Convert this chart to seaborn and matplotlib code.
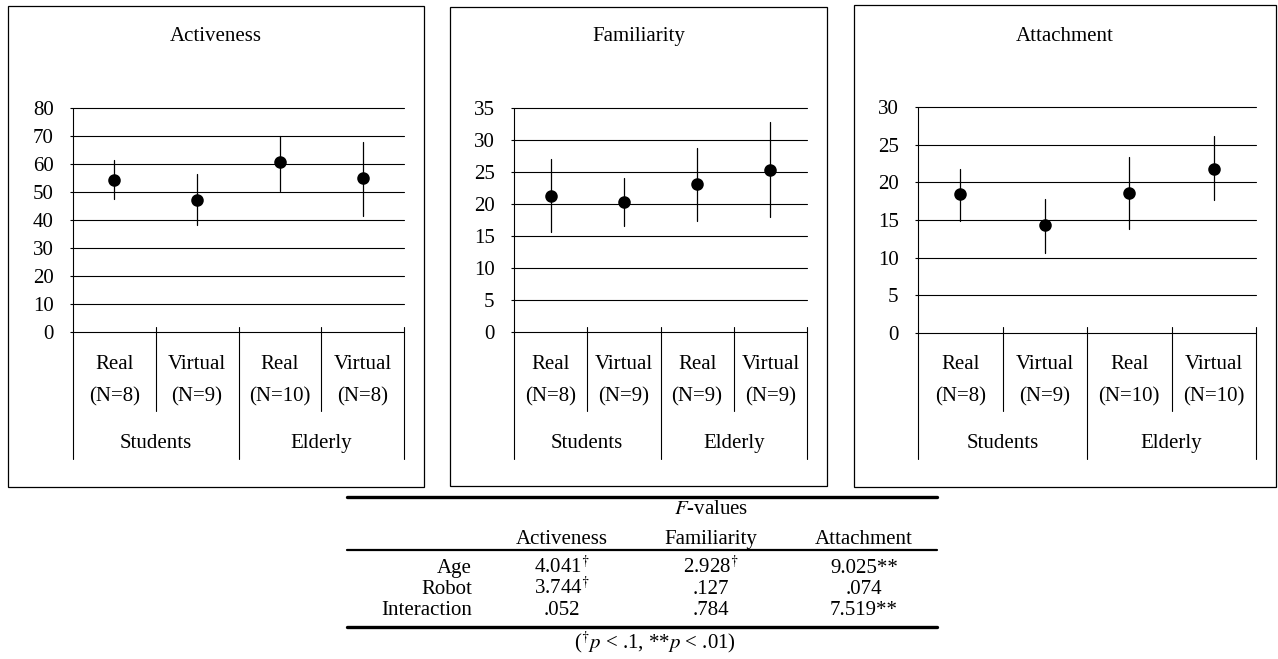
import pandas as pd
import seaborn as sns
import matplotlib.pyplot as plt
from matplotlib.patches import Rectangle

# condiciones (mismo orden en los tres paneles)
conditions = ["Students Real", "Students Virtual", "Elderly Real", "Elderly Virtual"]
robot_labels = ["Real", "Virtual", "Real", "Virtual"]
age_groups = ["Students", "Elderly"]

# medias y barras de error
activeness_mean = [54.3, 47.0, 60.6, 54.9]
activeness_lo = [47.6, 38.2, 50.5, 41.3]
activeness_hi = [61.3, 56.4, 69.9, 67.7]
activeness_n = [8, 9, 10, 8]

familiarity_mean = [21.2, 20.3, 23.1, 25.3]
familiarity_lo = [15.6, 16.5, 17.4, 18.0]
familiarity_hi = [27.1, 24.0, 28.7, 32.8]
familiarity_n = [8, 9, 9, 9]

attachment_mean = [18.4, 14.3, 18.6, 21.8]
attachment_lo = [14.9, 10.6, 13.8, 17.7]
attachment_hi = [21.8, 17.8, 23.4, 26.1]
attachment_n = [8, 9, 10, 10]

# tabla de valores F
table_rows = ["Age", "Robot", "Interaction"]
table_cols = ["Activeness", "Familiarity", "Attachment"]
f_activeness = [r"4.041$^{\dagger}$", r"3.744$^{\dagger}$", ".052"]
f_familiarity = [r"2.928$^{\dagger}$", ".127", ".784"]
f_attachment = ["9.025**", ".074", "7.519**"]

sns.set_theme(style="white")
plt.rcParams["font.family"] = ["Liberation Serif", "DejaVu Serif"]
plt.rcParams["mathtext.fontset"] = "stix"
plt.rcParams["text.color"] = "black"
FS = 15

W, H = 1278, 659
fig = plt.figure(figsize=(W / 100, H / 100), dpi=100)

# capa en pixeles para marcos, titulos y tabla
over = fig.add_axes([0, 0, 1, 1])
over.set_xlim(0, W)
over.set_ylim(H, 0)
over.axis("off")

panels = [
    ("Activeness", activeness_mean, activeness_lo, activeness_hi, activeness_n, 80, 10,
     (8, 6, 424, 487), (73, 108, 404, 332)),
    ("Familiarity", familiarity_mean, familiarity_lo, familiarity_hi, familiarity_n, 35, 5,
     (450, 7, 827, 486), (514, 108, 807, 332)),
    ("Attachment", attachment_mean, attachment_lo, attachment_hi, attachment_n, 30, 5,
     (854, 5, 1276, 487), (918, 107, 1256, 333)),
]

for title, mean, lo, hi, ns, ymax, step, box, rect in panels:
    bx0, by0, bx1, by1 = box
    over.add_patch(Rectangle((bx0, by0), bx1 - bx0, by1 - by0, fill=False,
                             edgecolor="black", lw=0.9))
    over.text((bx0 + bx1) / 2, 41, title, ha="center", va="baseline", fontsize=FS)

    ax0, ay0, ax1, ay1 = rect
    ax = fig.add_axes([ax0 / W, (H - ay1) / H, (ax1 - ax0) / W, (ay1 - ay0) / H])
    ax.set_facecolor("none")

    # formato largo: min, media, max por condicion -> mediana + intervalo 0-100
    df = pd.DataFrame({
        "cond": [c for c in conditions for _ in range(3)],
        "value": [v for trio in zip(lo, mean, hi) for v in trio],
    })
    sns.pointplot(data=df, x="cond", y="value", order=conditions,
                  estimator="median", errorbar=("pi", 100), color="black",
                  marker="o", markersize=7, linestyle="none",
                  err_kws={"linewidth": 0.9}, ax=ax)

    ax.set_xlim(-0.5, 3.5)
    ax.set_ylim(0, ymax)
    ax.set_yticks(range(0, ymax + 1, step))
    ax.yaxis.grid(True, color="black", lw=0.8)
    ax.set_axisbelow(True)
    ax.set_xticks([])
    ax.set_xlabel("")
    ax.set_ylabel("")
    for s in ax.spines.values():
        s.set_visible(False)
    ax.tick_params(axis="y", left=True, length=2, width=0.8, pad=12,
                   labelsize=FS, colors="black")
    for g in ax.get_ygridlines():
        g.set_clip_on(False)

    def fy(ypix):
        return (ay1 - ypix) / (ay1 - ay0)

    tr = ax.get_xaxis_transform()
    ax.plot([-0.5, -0.5], [1, fy(459)], transform=tr, clip_on=False, color="black", lw=0.8)
    for x in (0.5, 2.5):
        ax.plot([x, x], [fy(327), fy(411)], transform=tr, clip_on=False, color="black", lw=0.8)
    for x in (1.5, 3.5):
        ax.plot([x, x], [fy(327), fy(459)], transform=tr, clip_on=False, color="black", lw=0.8)
    for i, (r, n) in enumerate(zip(robot_labels, ns)):
        ax.text(i, fy(369), r, transform=tr, ha="center", va="baseline", fontsize=FS)
        ax.text(i, fy(401), f"(N={n})", transform=tr, ha="center", va="baseline", fontsize=FS)
    for j, g in enumerate(age_groups):
        ax.text(0.5 + 2 * j, fy(448), g, transform=tr, ha="center", va="baseline", fontsize=FS)

# tabla
tx0, tx1 = 347, 937
over.plot([tx0, tx1], [497, 497], color="black", lw=2.4)
over.plot([tx0, tx1], [550, 550], color="black", lw=1.6)
over.plot([tx0, tx1], [627, 627], color="black", lw=2.4)
col_x = [562, 711, 864]
row_y = [573, 594, 615]
over.text(711, 514, "$F$-values", ha="center", va="baseline", fontsize=FS)
for cx, c in zip(col_x, table_cols):
    over.text(cx, 544, c, ha="center", va="baseline", fontsize=FS)
for ry, r in zip(row_y, table_rows):
    over.text(472, ry, r, ha="right", va="baseline", fontsize=FS)
for cx, col in zip(col_x, [f_activeness, f_familiarity, f_attachment]):
    for ry, v in zip(row_y, col):
        over.text(cx, ry, v, ha="center", va="baseline", fontsize=FS)
over.text(655, 648, r"($^{\dagger}p$ < .1, **$p$ < .01)", ha="center", va="baseline", fontsize=FS)

plt.savefig("out.png", dpi=100)
plt.close()
